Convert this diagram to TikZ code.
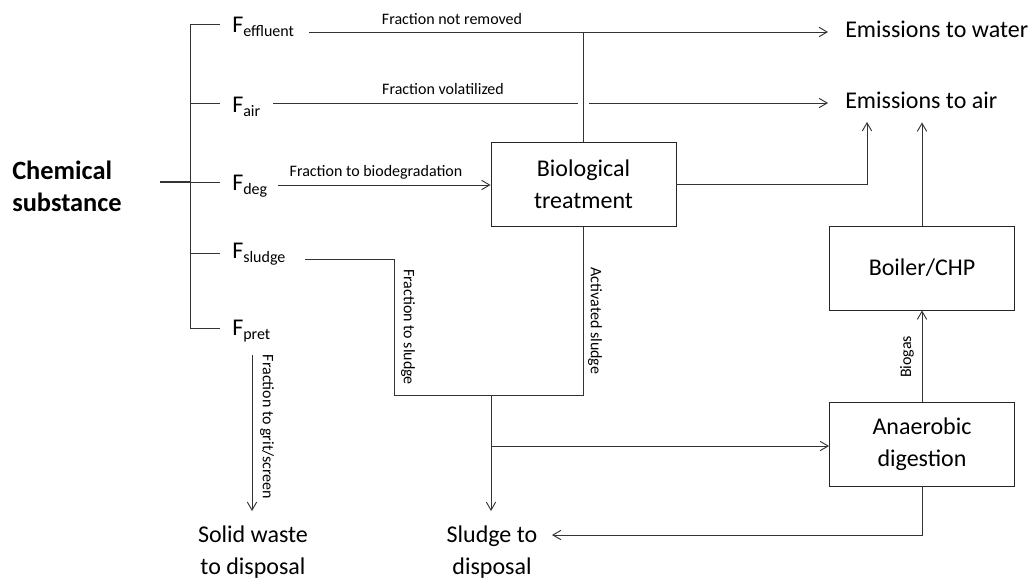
\documentclass[tikz,border=0pt]{standalone}
\usepackage{fontspec}
\setmainfont{Carlito}
\usetikzlibrary{arrows.meta,calc}
\newcommand\fsub[1]{F\raisebox{-3pt}{\fontsize{12}{14}\selectfont #1}}
\begin{document}
\begin{tikzpicture}[x=0.75pt,y=-0.75pt,
  line/.style={draw=black!80, line width=0.7pt},
  arr/.style={line, -{Straight Barb[length=6pt,width=7pt]}},
  big/.style={font=\fontsize{18}{24}\selectfont},
  small/.style={font=\fontsize{12}{14}\selectfont, inner sep=0pt},
  box/.style={draw=black!85, line width=0.7pt, minimum width=138.75pt, minimum height=63pt, align=center, big},
  flab/.style={anchor=base west, inner sep=0pt, big}
]
\path[use as bounding box] (0,0) rectangle (1032,579);

% text nodes
\node[font=\fontsize{19.8}{24}\selectfont\bfseries, align=left, anchor=west, inner sep=0pt] (cs) at (12,186) {Chemical\\substance};
\node[flab] (fe) at (232,32) {\fsub{effluent}};
\node[flab] (fa) at (232,112) {\fsub{air}};
\node[flab] (fd) at (232,190) {\fsub{deg}};
\node[flab] (fs) at (232,258) {\fsub{sludge}};
\node[flab] (fp) at (232,335) {\fsub{pret}};

\node[box] (bio) at (583.5,184.5) {Biological\\treatment};
\node[box] (boiler) at (922,268) {Boiler/CHP};
\node[box] (ad) at (922,444) {Anaerobic\\digestion};

\node[big, anchor=base west, inner xsep=12.75pt, inner ysep=0pt] (ew) at (828,37) {Emissions to water};
\node[big, anchor=base west, inner xsep=12.75pt, inner ysep=10.5pt] (ea) at (828,108) {Emissions to air};
\node[big, align=center, inner sep=0pt] (sw) at (253,552) {Solid waste\\to disposal};
\node[big, align=center, inner sep=0pt] (sd) at (492,552) {Sludge to\\disposal};

\node[small] (l1) at (452,19) {Fraction not removed};
\node[small] (l2) at (443,89) {Fraction volatilized};
\node[small] (l3) at (376,172) {Fraction to biodegradation};
\node[small, rotate=-90] (l4) at (408,327) {Fraction to sludge};
\node[small, rotate=-90] (l5) at (595,321) {Activated sludge};
\node[small, rotate=-90] (l6) at (267,427) {Fraction to grit/screen};
\node[small, rotate=90] (l7) at (907,357) {Biogas};

% coordinates
\coordinate (cs-out) at (160,182);
\coordinate (br-top) at (190,24);
\coordinate (br-bot) at (190,328);
\coordinate (fe-out) at (309,32);
\coordinate (fa-out) at (273,103);
\coordinate (fd-out) at (278,185);
\coordinate (fs-out) at (305,259);
\coordinate (fp-out) at (252,355);
\coordinate (sw-top) at (252,511);
\coordinate (j1) at (394,395);
\coordinate (j2) at (491,395);
\coordinate (j3) at (491,446);
\coordinate (sd-top) at (491,511);
\coordinate (sd-in) at (552,535);
\coordinate (bio-air) at (867,122);

% bracket
\draw[line, line width=1pt] (cs-out) -- (cs-out -| br-top);
\draw[line] (br-top) -- (br-bot);
\foreach \yy in {24,103,182,253,328}
  \draw[line] (190,\yy) -- (220,\yy);

% flows
\draw[arr] (fe-out) -- (fe-out -| ew.west);
\draw[line] (bio.north) -- (bio.north |- fe-out);
\draw[line] (fa-out) -- ($(bio.north |- fa-out)+(-5.5,0)$);
\draw[arr] ($(bio.north |- fa-out)+(5.5,0)$) -- (fa-out -| ea.west);
\draw[arr] (fd-out) -- (fd-out -| bio.west);
\draw[arr] (bio.east) -| (bio-air);
\draw[arr] (boiler.north) -- (boiler.north |- ea.south);
\draw[arr] (ad.north) -- (boiler.south);
\draw[line] (fs-out) -| (j1) -- (j1 -| bio.south) -- (bio.south);
\draw[arr] (j2) -- (sd-top);
\draw[arr] (j3) -- (j3 -| ad.west);
\draw[arr] (ad.south) |- (sd-in);
\draw[arr] (fp-out) -- (sw-top);
\end{tikzpicture}
\end{document}
